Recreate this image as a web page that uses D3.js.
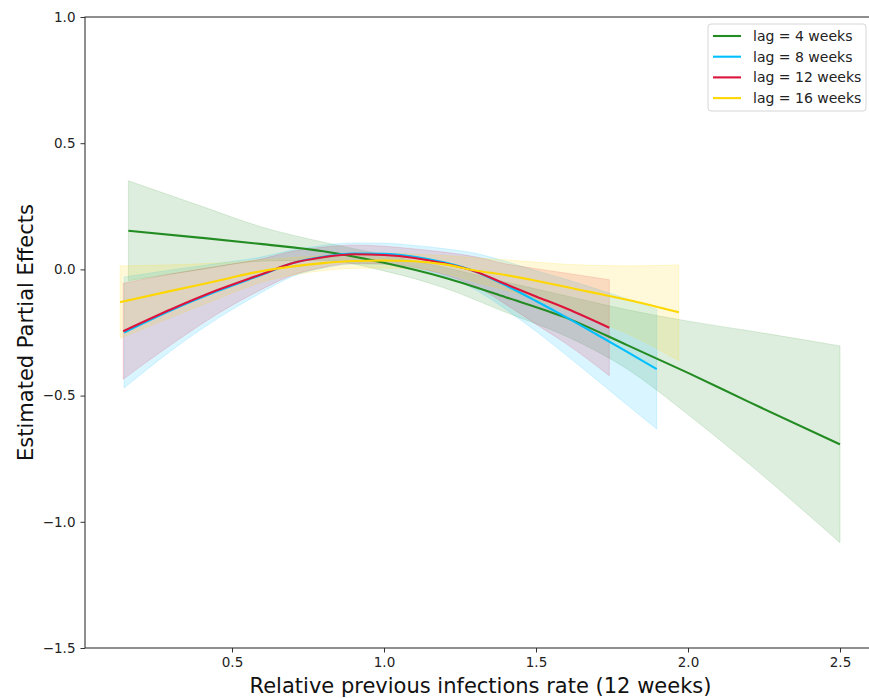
<!DOCTYPE html>
<html>
<head>
<meta charset="utf-8">
<script src="https://cdn.jsdelivr.net/npm/d3@7"></script>
<style>
  body { margin: 0; background: #fff; }
  svg { display: block; font-family: "DejaVu Sans", sans-serif; }
</style>
</head>
<body>
<svg id="chart"></svg>
<script>
const W = 869, H = 698
const margin = { top: 17, right: 876, bottom: 648, left: 85 }

// lag = 4 weeks
const lag4X     = [0.159, 0.4, 0.6, 0.8, 1.0, 1.2, 1.4, 1.6, 1.8, 2.0, 2.2, 2.5]
const lag4Mean  = [0.153, 0.125, 0.100, 0.072, 0.026, -0.033, -0.110, -0.192, -0.300, -0.410, -0.525, -0.693]
const lag4Upper = [0.351, 0.250, 0.167, 0.108, 0.058, 0.008, -0.050, -0.105, -0.160, -0.205, -0.243, -0.303]
const lag4Lower = [-0.045, 0.000, 0.033, 0.036, -0.006, -0.074, -0.170, -0.265, -0.395, -0.575, -0.770, -1.083]

// lag = 8 weeks
const lag8X     = [0.145, 0.3, 0.45, 0.6, 0.7, 0.8, 0.9, 1.0, 1.1, 1.2, 1.3, 1.4, 1.5, 1.6, 1.7, 1.8, 1.897]
const lag8Mean  = [-0.250, -0.162, -0.087, -0.020, 0.025, 0.050, 0.063, 0.062, 0.050, 0.027, -0.008, -0.063, -0.125, -0.190, -0.258, -0.327, -0.395]
const lag8Upper = [-0.030, -0.002, 0.023, 0.050, 0.077, 0.095, 0.105, 0.104, 0.095, 0.082, 0.064, 0.032, -0.005, -0.040, -0.078, -0.117, -0.158]
const lag8Lower = [-0.470, -0.322, -0.197, -0.090, -0.027, 0.005, 0.021, 0.020, 0.005, -0.028, -0.080, -0.158, -0.245, -0.340, -0.438, -0.537, -0.632]

// lag = 12 weeks
const lag12X     = [0.142, 0.3, 0.45, 0.6, 0.7, 0.8, 0.9, 1.0, 1.1, 1.2, 1.3, 1.4, 1.5, 1.6, 1.741]
const lag12Mean  = [-0.245, -0.158, -0.083, -0.018, 0.025, 0.048, 0.060, 0.057, 0.045, 0.023, -0.008, -0.058, -0.107, -0.155, -0.231]
const lag12Upper = [-0.055, -0.018, 0.012, 0.042, 0.072, 0.088, 0.096, 0.092, 0.081, 0.068, 0.050, 0.022, 0.003, -0.015, -0.041]
const lag12Lower = [-0.435, -0.298, -0.178, -0.078, -0.022, 0.008, 0.024, 0.022, 0.009, -0.022, -0.066, -0.138, -0.217, -0.295, -0.421]

// lag = 16 weeks
const lag16X     = [0.132, 0.3, 0.45, 0.6, 0.7, 0.8, 0.9, 1.0, 1.1, 1.2, 1.3, 1.4, 1.5, 1.6, 1.7, 1.8, 1.97]
const lag16Mean  = [-0.130, -0.085, -0.046, -0.006, 0.012, 0.025, 0.033, 0.035, 0.032, 0.020, -0.004, -0.022, -0.045, -0.070, -0.095, -0.120, -0.170]
const lag16Upper = [0.014, 0.018, 0.025, 0.038, 0.047, 0.055, 0.062, 0.065, 0.061, 0.055, 0.046, 0.038, 0.029, 0.020, 0.016, 0.014, 0.018]
const lag16Lower = [-0.273, -0.190, -0.118, -0.050, -0.022, -0.005, 0.004, 0.005, 0.003, -0.015, -0.050, -0.082, -0.120, -0.160, -0.206, -0.254, -0.362]

const labels = ["lag = 4 weeks", "lag = 8 weeks", "lag = 12 weeks", "lag = 16 weeks"]
const colors = ["#228b22", "#00bfff", "#dc143c", "#ffd700"]
const xTicks = [0.5, 1.0, 1.5, 2.0, 2.5]
const yTicks = [-1.5, -1.0, -0.5, 0.0, 0.5, 1.0]

const series = [
  { x: lag4X,  mean: lag4Mean,  lo: lag4Lower,  hi: lag4Upper },
  { x: lag8X,  mean: lag8Mean,  lo: lag8Lower,  hi: lag8Upper },
  { x: lag12X, mean: lag12Mean, lo: lag12Lower, hi: lag12Upper },
  { x: lag16X, mean: lag16Mean, lo: lag16Lower, hi: lag16Upper }
].map((s, i) => ({
  label: labels[i],
  color: colors[i],
  pts: s.x.map((x, j) => ({ x: x, m: s.mean[j], lo: s.lo[j], hi: s.hi[j] }))
}))

const svg = d3.select("#chart").attr("width", W).attr("height", H)

const x = d3.scaleLinear().domain([0.0164, 2.6184]).range([margin.left, margin.right])
const y = d3.scaleLinear().domain([-1.5, 1.0]).range([margin.bottom, margin.top])

// bands
const area = d3.area()
  .curve(d3.curveMonotoneX)
  .x(d => x(d.x))
  .y0(d => y(d.lo))
  .y1(d => y(d.hi))

svg.append("g").attr("class", "bands")
  .selectAll("path")
  .data(series)
  .enter().append("path")
  .attr("d", d => area(d.pts))
  .attr("fill", d => d.color)
  .attr("fill-opacity", 0.15)
  .attr("stroke", d => d.color)
  .attr("stroke-opacity", 0.15)
  .attr("stroke-width", 1)

// mean lines
const line = d3.line()
  .curve(d3.curveMonotoneX)
  .x(d => x(d.x))
  .y(d => y(d.m))

svg.append("g").attr("class", "lines")
  .selectAll("path")
  .data(series)
  .enter().append("path")
  .attr("d", d => line(d.pts))
  .attr("fill", "none")
  .attr("stroke", d => d.color)
  .attr("stroke-width", 2.1)

// axes
const xAxis = svg.append("g")
  .attr("transform", "translate(0," + margin.bottom + ")")
  .call(d3.axisBottom(x).tickValues(xTicks).tickFormat(d3.format(".1f")).tickSizeOuter(0).tickSize(4.5).tickPadding(5))
const yAxis = svg.append("g")
  .attr("transform", "translate(" + margin.left + ",0)")
  .call(d3.axisLeft(y).tickValues(yTicks).tickFormat(d => d3.format(".1f")(d).replace("-", "\u2212")).tickSizeOuter(0).tickSize(4.5).tickPadding(5))

;[xAxis, yAxis].forEach(a => {
  a.select(".domain").remove()
  a.selectAll(".tick line").attr("stroke", "#333").attr("stroke-width", 1)
  a.selectAll(".tick text")
    .attr("fill", "#222")
    .style("font-family", "DejaVu Sans")
    .style("font-size", "13.5px")
})

// spines
svg.append("rect")
  .attr("x", margin.left)
  .attr("y", margin.top)
  .attr("width", margin.right - margin.left)
  .attr("height", margin.bottom - margin.top)
  .attr("fill", "none")
  .attr("stroke", "#333")
  .attr("stroke-width", 1.1)

// axis titles
svg.append("text")
  .attr("x", (margin.left + margin.right) / 2)
  .attr("y", 693)
  .attr("text-anchor", "middle")
  .attr("fill", "#111")
  .style("font-size", "21px")
  .text("Relative previous infections rate (12 weeks)")

svg.append("text")
  .attr("transform", "translate(33," + (margin.top + margin.bottom) / 2 + ") rotate(-90)")
  .attr("text-anchor", "middle")
  .attr("fill", "#111")
  .style("font-size", "21px")
  .text("Estimated Partial Effects")

// legend
const legend = svg.append("g").attr("transform", "translate(708,24)")
legend.append("rect")
  .attr("width", 158)
  .attr("height", 87)
  .attr("rx", 3)
  .attr("fill", "#fff")
  .attr("fill-opacity", 0.8)
  .attr("stroke", "#d6d6d6")

const items = legend.selectAll("g.item")
  .data(series)
  .enter().append("g")
  .attr("class", "item")
  .attr("transform", (d, i) => "translate(0," + (12 + i * 20.7) + ")")

items.append("line")
  .attr("x1", 5).attr("x2", 33)
  .attr("stroke", d => d.color)
  .attr("stroke-width", 2.1)

items.append("text")
  .attr("x", 45)
  .attr("y", 5)
  .attr("fill", "#222")
  .style("font-size", "14px")
  .text(d => d.label)
</script>
</body>
</html>
